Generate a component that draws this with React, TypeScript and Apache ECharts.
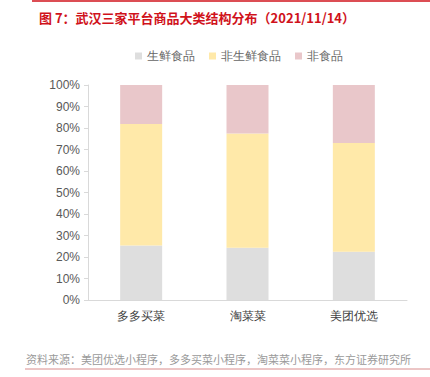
import React, { useEffect, useRef } from "react";
import * as echarts from "echarts";

const categories = ["多多买菜", "淘菜菜", "美团优选"];
const freshFood = [25.3, 24.3, 22.5];
const nonFreshFood = [56.6, 53.2, 50.5];
const nonFood = [18.1, 22.5, 27.0];
const seriesNames = ["生鲜食品", "非生鲜食品", "非食品"];
const colors = ["#DEDEDE", "#FFE9A9", "#E9C7CA"];

export default function App() {
  const ref = useRef<HTMLDivElement>(null);
  useEffect(() => {
    if (!ref.current) return;
    const chart = echarts.init(ref.current, null, { renderer: "svg" });
    const data = [freshFood, nonFreshFood, nonFood];
    chart.setOption({
      animation: false,
      backgroundColor: "#ffffff",
      title: {
        text: "图 7：武汉三家平台商品大类结构分布（2021/11/14）",
        left: 34,
        top: 6,
        textStyle: {
          color: "#D0121B",
          fontSize: 13,
          fontWeight: "bold",
          fontFamily: "Noto Sans CJK SC, sans-serif",
        },
      },
      legend: {
        top: 45,
        left: 130,
        itemWidth: 7,
        itemHeight: 7,
        itemGap: 14,
        icon: "rect",
        data: seriesNames,
        textStyle: {
          color: "#666666",
          fontSize: 12,
          fontFamily: "serif",
        },
      },
      grid: { left: 88, right: 23, top: 85, bottom: 77 },
      xAxis: {
        type: "category",
        data: categories,
        axisLine: { lineStyle: { color: "#D9D9D9" } },
        axisTick: { show: false },
        axisLabel: {
          color: "#404040",
          fontSize: 12,
          fontFamily: "serif",
          margin: 10,
        },
      },
      yAxis: {
        type: "value",
        min: 0,
        max: 100,
        interval: 10,
        axisLine: { show: true, lineStyle: { color: "#D9D9D9" } },
        axisTick: { show: true, length: 4, lineStyle: { color: "#D9D9D9" } },
        splitLine: { show: false },
        axisLabel: {
          formatter: "{value}%",
          color: "#595959",
          fontSize: 12,
          fontFamily: "Liberation Sans, Arial, sans-serif",
          margin: 8,
        },
      },
      series: seriesNames.map((name, i) => ({
        name,
        type: "bar",
        stack: "total",
        barWidth: 42,
        data: data[i],
        itemStyle: { color: colors[i] },
      })),
      graphic: [
        {
          type: "line",
          shape: { x1: 32, y1: 1, x2: 430, y2: 1 },
          style: { stroke: "#D0121B", lineWidth: 1.5 },
        },
        {
          type: "text",
          left: 26,
          top: 353,
          style: {
            text: "资料来源：美团优选小程序，多多买菜小程序，淘菜菜小程序，东方证券研究所",
            fill: "#9A9A9A",
            fontSize: 11,
            fontFamily: "Noto Sans CJK SC, sans-serif",
          },
        },
        {
          type: "line",
          shape: { x1: 25, y1: 369, x2: 430, y2: 369 },
          style: { stroke: "#D98C8C", lineWidth: 1 },
        },
      ],
    });
    return () => chart.dispose();
  }, []);
  return <div ref={ref} style={{ width: 430, height: 377, position: "absolute", left: 0, top: 0 }} />;
}
